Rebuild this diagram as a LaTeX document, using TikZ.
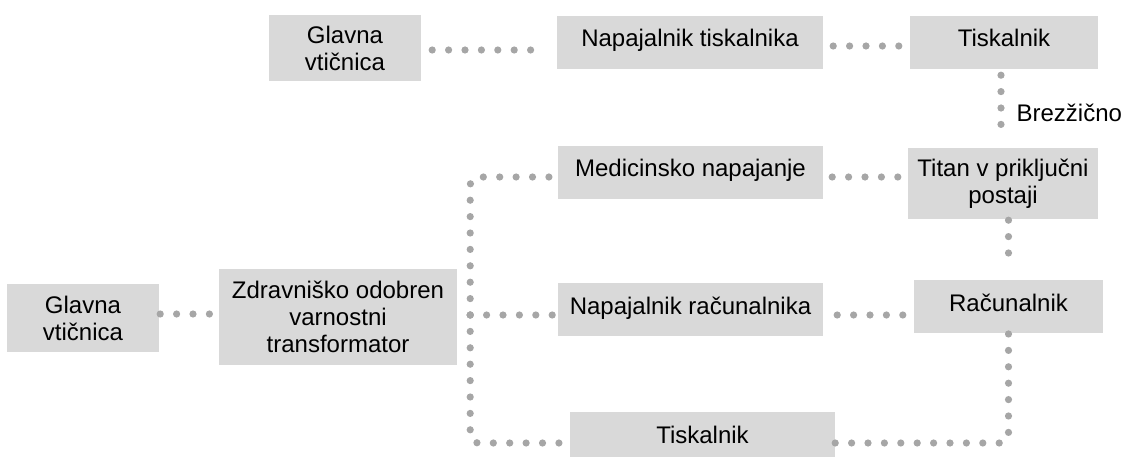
\documentclass[tikz,border=0pt]{standalone}
\usepackage{fontspec}
\setmainfont{Liberation Sans}
\usetikzlibrary{positioning}
\definecolor{boxgray}{HTML}{D9D9D9}
\definecolor{dotgray}{HTML}{A6A6A6}

\begin{document}
\begin{tikzpicture}[x=1pt, y=-1pt,
        every node/.style={font=\fontsize{24}{27}\selectfont, text=black},
        device/.style={fill=boxgray, inner sep=0pt, text height=17pt, text depth=8pt},
        stack/.style={fill=boxgray, inner sep=0pt, align=center},
        wire/.style={dotgray, line width=7.2pt, line cap=round,
                dash pattern=on 0pt off 16.4pt, rounded corners=8pt}]
        \useasboundingbox (0, 0) rectangle (1126, 457);
        \clip (0, 0) rectangle (1126, 457);

        % upper chain
        \node[stack, minimum width=152pt, minimum height=66pt] (socket top) at (345, 48) {Glavna\\vtičnica};
        \node[device, minimum width=266pt, minimum height=53pt] (printer supply) at (690, 42.5) {Napajalnik tiskalnika};
        \node[device, minimum width=188pt, minimum height=53pt] (printer top) at (1004, 42.5) {Tiskalnik};
        \node[stack, minimum width=190pt, minimum height=71pt] (titan) at (1003, 183.5) {Titan v priključni\\postaji};

        % lower chain
        \node[stack, minimum width=152pt, minimum height=68pt] (socket low) at (83, 318) {Glavna\\vtičnica};
        \node[stack, minimum width=238pt, minimum height=96pt] (transformer) at (338, 317) {Zdravniško odobren\\varnostni\\transformator};
        \node[device, minimum width=265pt, minimum height=53pt] (medical supply) at (690.5, 172.5) {Medicinsko napajanje};
        \node[device, minimum width=265pt, minimum height=53pt] (computer supply) at (690.5, 309.5) {Napajalnik računalnika};
        \node[device, minimum width=189pt, minimum height=53pt] (computer) at (1008.5, 306.5) {Računalnik};
        \node[device, minimum width=265pt, minimum height=53pt] (printer low) at (702.5, 438.5) {Tiskalnik};

        \coordinate (fork) at ([xshift=13pt, yshift=2pt]transformer.east);

        \draw[wire, shorten <=11pt, shorten >=24pt]
                ([yshift=-2pt]socket top.east) -- ([yshift=-2pt]socket top.east -| printer supply.west);
        \draw[wire, shorten <=10pt, shorten >=11pt]
                ([yshift=-3.5pt]printer supply.east) -- ([yshift=-3.5pt]printer top.west);
        \draw[wire, shorten <=6pt, shorten >=9pt]
                ([xshift=-3pt]printer top.south) -- node[right=12pt, inner sep=0pt, pos=0.55] {Brezžično}
                ([xshift=-3pt]printer top.south |- titan.north);
        \draw[wire, shorten <=9pt, shorten >=10pt]
                ([yshift=-4.5pt]medical supply.east) -- ([yshift=-4.5pt]medical supply.east -| titan.west);
        \draw[wire, shorten <=1pt, shorten >=13pt]
                (titan.south -| computer.north) -- (computer.north);
        \draw[wire, shorten <=14pt, shorten >=9pt]
                ([yshift=-5.5pt]computer supply.east) -- ([yshift=-5.5pt]computer supply.east -| computer.west);
        \draw[wire, shorten <=1pt, shorten >=8pt]
                ([yshift=4pt]socket low.east) -- ([yshift=4pt]socket low.east -| transformer.west);

        \draw[wire] (fork) |- ([yshift=-4.5pt]medical supply.west);
        \draw[wire, shorten >=4pt] (fork) -- (fork -| computer supply.west);
        \draw[wire] (fork) |- ([yshift=-4.5pt]printer low.west);
        \draw[wire] ([yshift=-4.5pt]printer low.east) -| (computer.south);
\end{tikzpicture}
\end{document}
